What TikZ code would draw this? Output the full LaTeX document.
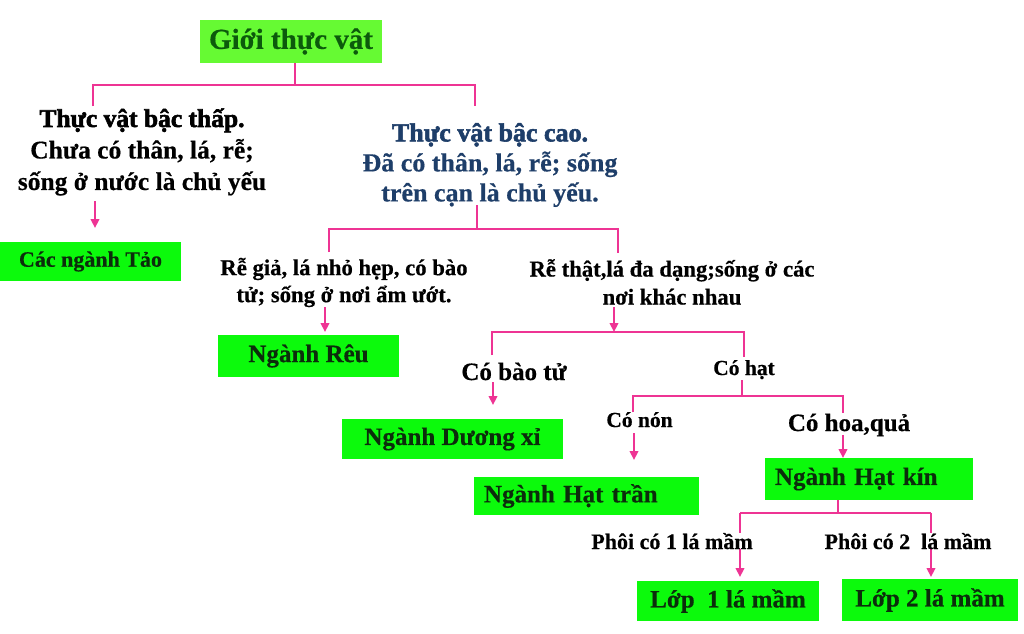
\documentclass[tikz,border=0pt]{standalone}
\usepackage{fontspec}
\setmainfont{Liberation Serif}[BoldFeatures={FakeBold=0.5}]
\newfontfamily\heavyfont{Liberation Serif Bold}[FakeBold=2.2]
\usetikzlibrary{arrows.meta}
\definecolor{pinkc}{RGB}{238,52,148}
\definecolor{boxg}{RGB}{12,250,12}
\definecolor{rootg}{RGB}{102,250,51}
\definecolor{roott}{RGB}{12,90,12}
\definecolor{boxt}{RGB}{12,45,12}
\definecolor{bluet}{RGB}{30,62,105}
\newcommand\myfs[2]{\fontsize{#1}{#2}\selectfont\bfseries}
\tikzset{
  link/.style={draw=pinkc,line width=2.2pt},
  arr/.style={link,-{Triangle[length=9pt,width=8.5pt]}},
  gbox/.style={fill=boxg,inner sep=0pt,text=boxt,font=\myfs{25}{30}},
  lbl/.style={inner sep=0pt,text=black}
}
\begin{document}
\begin{tikzpicture}[x=1pt,y=-1pt]
\useasboundingbox[fill=white] (0,0) rectangle (1024,633);
% root
\node[fill=rootg,inner sep=0pt,minimum width=182pt,minimum height=43pt,text=roott,font=\myfs{29}{34}] (root) at (291,41.5) {Giới thực vật};
\coordinate (r0) at (295,63);
\coordinate (r1) at (295,85);
\coordinate (rl) at (93,85);
\coordinate (rr) at (475,85);
\coordinate (rl2) at (93,106);
\coordinate (rr2) at (475,106);
\draw[link] (r0) -- (r1);
\draw[link] (rl2) -- (rl) -- (rr) -- (rr2);
% low plants
\node[lbl,align=center,font=\myfs{25.5}{31.5}] (low) at (142,152) {{\heavyfont Thực vật bậc thấp.}\\Chưa có thân, lá, rễ;\\sống ở nước là chủ yếu};
\coordinate (la0) at (95,201);
\coordinate (la1) at (95,228);
\draw[arr] (la0) -- (la1);
\node[gbox,minimum width=181pt,minimum height=39pt,font=\myfs{22}{26}] (tao) at (90.5,261.5) {Các ngành Tảo};
% high plants
\node[lbl,align=center,text=bluet,font=\myfs{26}{30}] (high) at (490,165) {{\heavyfont Thực vật bậc cao.}\\Đã có thân, lá, rễ; sống\\trên cạn là chủ yếu.};
\coordinate (h0) at (477,205);
\coordinate (h1) at (477,229);
\coordinate (hl) at (329,229);
\coordinate (hr) at (618,229);
\coordinate (hl2) at (329,252);
\coordinate (hr2) at (618,253);
\draw[link] (h0) -- (h1);
\draw[link] (hl2) -- (hl) -- (hr) -- (hr2);
% moss
\node[lbl,align=center,font=\myfs{22.7}{27}] (gia) at (344,282.5) {Rễ giả, lá nhỏ hẹp, có bào\\tử; sống ở nơi ẩm ướt.};
\coordinate (g0) at (325,307);
\coordinate (g1) at (325,332);
\draw[arr] (g0) -- (g1);
\node[gbox,minimum width=181pt,minimum height=42pt] (reu) at (308.5,356) {Ngành Rêu};
% true roots
\node[lbl,align=center,font=\myfs{22.7}{28}] (that) at (672,282) {Rễ thật,lá đa dạng;sống ở các\\nơi khác nhau};
\coordinate (t0) at (614,307);
\coordinate (t1) at (614,332);
\coordinate (tl) at (492,332);
\coordinate (tr) at (744,332);
\coordinate (tl2) at (492,355);
\coordinate (tr2) at (744,357);
\draw[arr] (t0) -- (t1);
\draw[link] (tl2) -- (tl) -- (tr) -- (tr2);
% spores
\node[lbl,anchor=base,font=\myfs{25}{30}] (bao) at (514,380) {Có bào tử};
\coordinate (b0) at (493,382);
\coordinate (b1) at (493,405);
\draw[arr] (b0) -- (b1);
\node[gbox,minimum width=221pt,minimum height=40pt] (duong) at (452.5,439) {Ngành Dương xỉ};
% seeds
\node[lbl,anchor=base,font=\myfs{21.5}{26}] (hat) at (744,375) {Có hạt};
\coordinate (s0) at (742,380);
\coordinate (s1) at (742,396);
\coordinate (sl) at (633,396);
\coordinate (sr) at (843,396);
\coordinate (sl2) at (633,412);
\coordinate (sr2) at (843,413);
\draw[link] (s0) -- (s1);
\draw[link] (sl2) -- (sl) -- (sr) -- (sr2);
% gymnosperms
\node[lbl,anchor=base,font=\myfs{21.5}{26}] (non) at (639.5,427) {Có nón};
\coordinate (n0) at (634,433);
\coordinate (n1) at (634,460);
\draw[arr] (n0) -- (n1);
\node[gbox,text width=205pt,align=left,inner xsep=10pt,minimum height=38pt] (tran) at (586.5,496) {Ngành Hạt trần};
% angiosperms
\node[lbl,anchor=base,font=\myfs{25}{30}] (hoa) at (849,431) {Có hoa,quả};
\coordinate (k0) at (843,435);
\coordinate (k1) at (843,458);
\draw[arr] (k0) -- (k1);
\node[gbox,text width=188pt,align=left,inner xsep=10pt,minimum height=42pt] (kin) at (869,479) {Ngành Hạt kín};
\coordinate (m0) at (838,500);
\coordinate (m1) at (838,513);
\coordinate (ml) at (740,513);
\coordinate (mr) at (931,513);
\coordinate (ml2) at (740,577);
\coordinate (mr2) at (931,577);
\draw[link] (m0) -- (m1);
\draw[link] (ml) -- (mr);
\draw[arr] (ml) -- (ml2);
\draw[arr] (mr) -- (mr2);
\node[lbl,anchor=base,fill=white,font=\myfs{22}{26}] (p1) at (672,549) {Phôi có 1 lá mầm};
\node[lbl,anchor=base,fill=white,font=\myfs{22}{26}] (p2) at (908,549) {Phôi có 2\ \ lá mầm};
\node[gbox,minimum width=182pt,minimum height=40pt] (lop1) at (728,601) {Lớp\ \ 1 lá mầm};
\node[gbox,minimum width=176pt,minimum height=42pt] (lop2) at (930,600) {Lớp 2 lá mầm};
\end{tikzpicture}
\end{document}
